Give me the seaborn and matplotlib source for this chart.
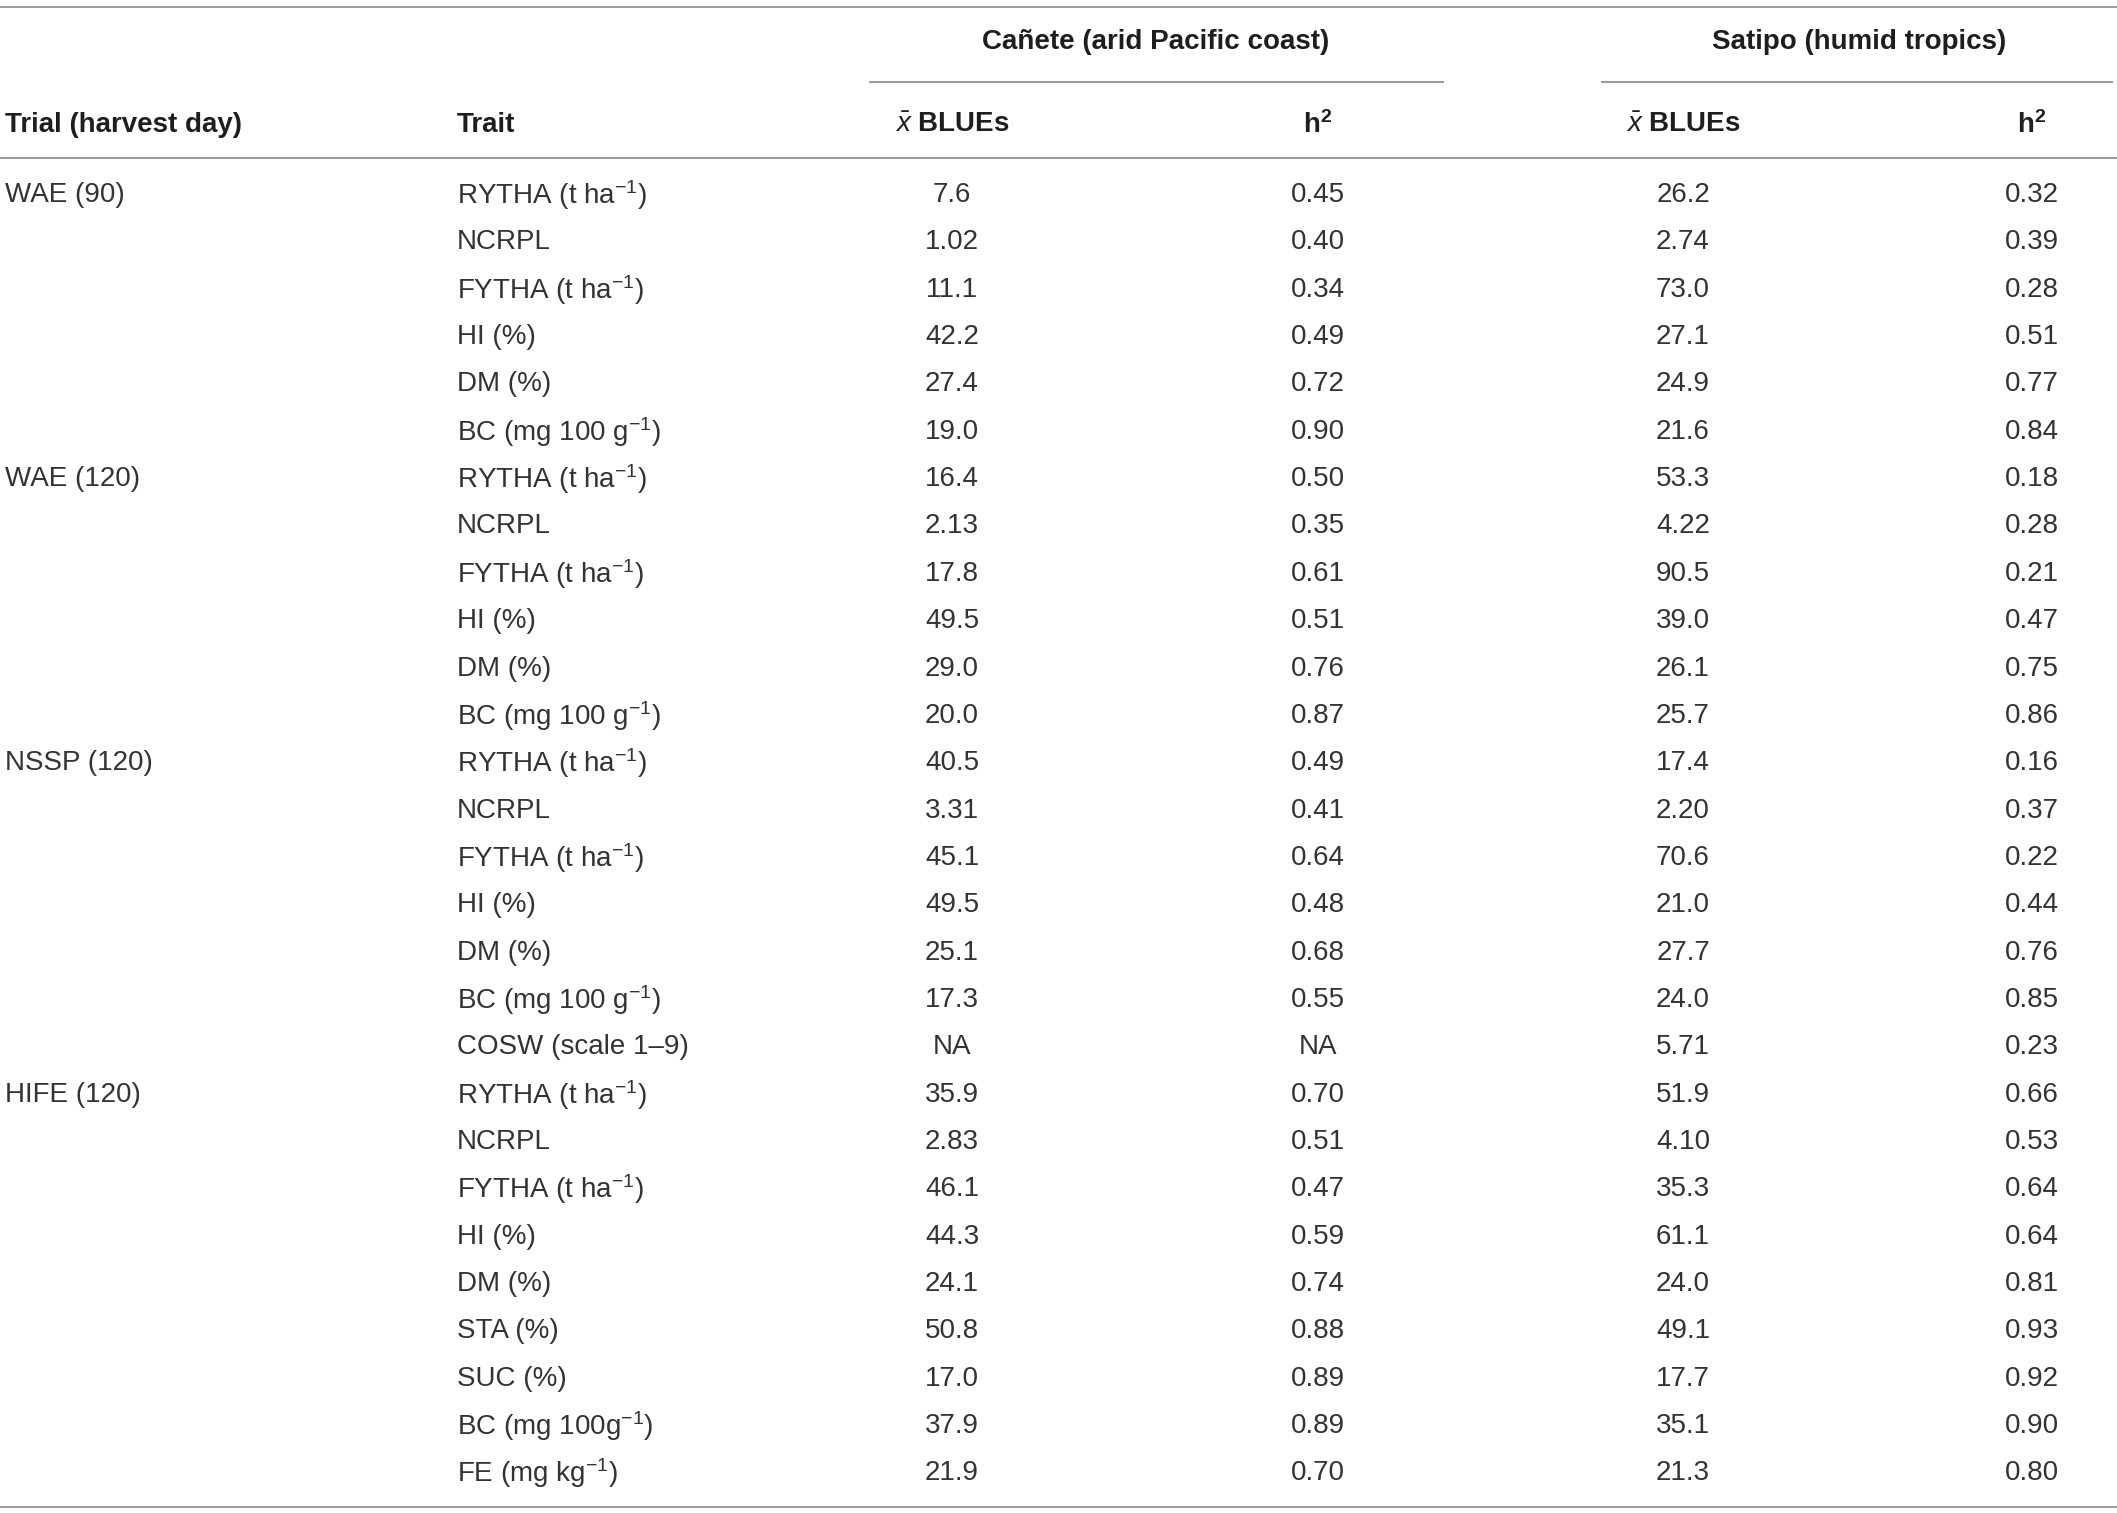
"""
Table: BLUE means and heritability per trial/trait at two Peruvian sites.
Drawn as text on a blank seaborn-styled axes.
"""

import matplotlib.pyplot as plt
import pandas as pd
import seaborn as sns

# ---- data -----------------------------------------------------------------
trials = ["WAE (90)", "WAE (120)", "NSSP (120)", "HIFE (120)"]
traits_per_trial = [6, 6, 7, 9]

traits = [
    r"RYTHA (t ha$^{-1}$)", "NCRPL", r"FYTHA (t ha$^{-1}$)", "HI (%)", "DM (%)", r"BC (mg 100 g$^{-1}$)",
    r"RYTHA (t ha$^{-1}$)", "NCRPL", r"FYTHA (t ha$^{-1}$)", "HI (%)", "DM (%)", r"BC (mg 100 g$^{-1}$)",
    r"RYTHA (t ha$^{-1}$)", "NCRPL", r"FYTHA (t ha$^{-1}$)", "HI (%)", "DM (%)", r"BC (mg 100 g$^{-1}$)",
    "COSW (scale 1–9)",
    r"RYTHA (t ha$^{-1}$)", "NCRPL", r"FYTHA (t ha$^{-1}$)", "HI (%)", "DM (%)", "STA (%)", "SUC (%)",
    r"BC (mg 100g$^{-1}$)", r"FE (mg kg$^{-1}$)",
]

canete_blues = [
    "7.6", "1.02", "11.1", "42.2", "27.4", "19.0",
    "16.4", "2.13", "17.8", "49.5", "29.0", "20.0",
    "40.5", "3.31", "45.1", "49.5", "25.1", "17.3", "NA",
    "35.9", "2.83", "46.1", "44.3", "24.1", "50.8", "17.0", "37.9", "21.9",
]
canete_h2 = [
    "0.45", "0.40", "0.34", "0.49", "0.72", "0.90",
    "0.50", "0.35", "0.61", "0.51", "0.76", "0.87",
    "0.49", "0.41", "0.64", "0.48", "0.68", "0.55", "NA",
    "0.70", "0.51", "0.47", "0.59", "0.74", "0.88", "0.89", "0.89", "0.70",
]
satipo_blues = [
    "26.2", "2.74", "73.0", "27.1", "24.9", "21.6",
    "53.3", "4.22", "90.5", "39.0", "26.1", "25.7",
    "17.4", "2.20", "70.6", "21.0", "27.7", "24.0", "5.71",
    "51.9", "4.10", "35.3", "61.1", "24.0", "49.1", "17.7", "35.1", "21.3",
]
satipo_h2 = [
    "0.32", "0.39", "0.28", "0.51", "0.77", "0.84",
    "0.18", "0.28", "0.21", "0.47", "0.75", "0.86",
    "0.16", "0.37", "0.22", "0.44", "0.76", "0.85", "0.23",
    "0.66", "0.53", "0.64", "0.64", "0.81", "0.93", "0.92", "0.90", "0.80",
]

site_labels = ["Cañete (arid Pacific coast)", "Satipo (humid tropics)"]
col_headers = ["Trial (harvest day)", "Trait", r"$\bar{x}$ BLUEs", r"h$^{\mathbf{2}}$",
               r"$\bar{x}$ BLUEs", r"h$^{\mathbf{2}}$"]

# ---- layout (pixels of the 2117x1513 canvas) -------------------------------
W, H = 2117, 1513
COL_X = [5, 457, 952, 1318, 1683, 2032]
COL_HA = ["left", "left", "center", "center", "center", "center"]
SITE_X = [1156, 1859]
SITE_SPAN = [(869, 1444), (1601, 2113)]
Y_TOP, Y_SITE, Y_SITE_LINE, Y_HEAD, Y_HEAD_LINE = 7, 42, 82, 125, 158
Y_ROW0, ROW_STEP, Y_BOTTOM = 195, 47.35, 1507

LINE_COLOR = "#9a9a9a"
HEAD_COLOR = "#1e1e1e"
BODY_COLOR = "#333333"
FS = 20


def main() -> None:
    sns.set_theme(style="white")
    plt.rcParams["font.family"] = ["Liberation Sans", "DejaVu Sans"]
    plt.rcParams["mathtext.fontset"] = "custom"
    plt.rcParams["mathtext.rm"] = "Liberation Sans"
    plt.rcParams["mathtext.it"] = "Liberation Sans:italic"
    plt.rcParams["mathtext.bf"] = "Liberation Sans:bold"

    trial_col = []
    for t, n in zip(trials, traits_per_trial):
        trial_col += [t] + [""] * (n - 1)

    df = pd.DataFrame({
        "trial": trial_col,
        "trait": traits,
        "c_blue": canete_blues,
        "c_h2": canete_h2,
        "s_blue": satipo_blues,
        "s_h2": satipo_h2,
    })

    fig = plt.figure(figsize=(W / 100, H / 100), dpi=100)
    ax = fig.add_axes([0, 0, 1, 1])
    ax.set_xlim(0, W)
    ax.set_ylim(H, 0)
    ax.axis("off")

    # rules
    for y in (Y_TOP, Y_HEAD_LINE, Y_BOTTOM):
        ax.plot([0, W], [y, y], color=LINE_COLOR, lw=1.4, solid_capstyle="butt")
    for x0, x1 in SITE_SPAN:
        ax.plot([x0, x1], [Y_SITE_LINE, Y_SITE_LINE], color=LINE_COLOR, lw=1.4,
                solid_capstyle="butt")

    # header
    for x, lab in zip(SITE_X, site_labels):
        ax.text(x, Y_SITE, lab, ha="center", va="center", fontsize=FS,
                fontweight="bold", color=HEAD_COLOR)
    for x, ha, lab in zip(COL_X, COL_HA, col_headers):
        ax.text(x, Y_HEAD, lab, ha=ha, va="center", fontsize=FS,
                fontweight="bold", color=HEAD_COLOR)

    # body
    for i, row in enumerate(df.itertuples(index=False)):
        y = Y_ROW0 + i * ROW_STEP
        for x, ha, val in zip(COL_X, COL_HA, row):
            if val:
                ax.text(x, y, val, ha=ha, va="center", fontsize=FS, color=BODY_COLOR)

    fig.savefig("out.png", dpi=100, facecolor="white")


if __name__ == "__main__":
    main()
